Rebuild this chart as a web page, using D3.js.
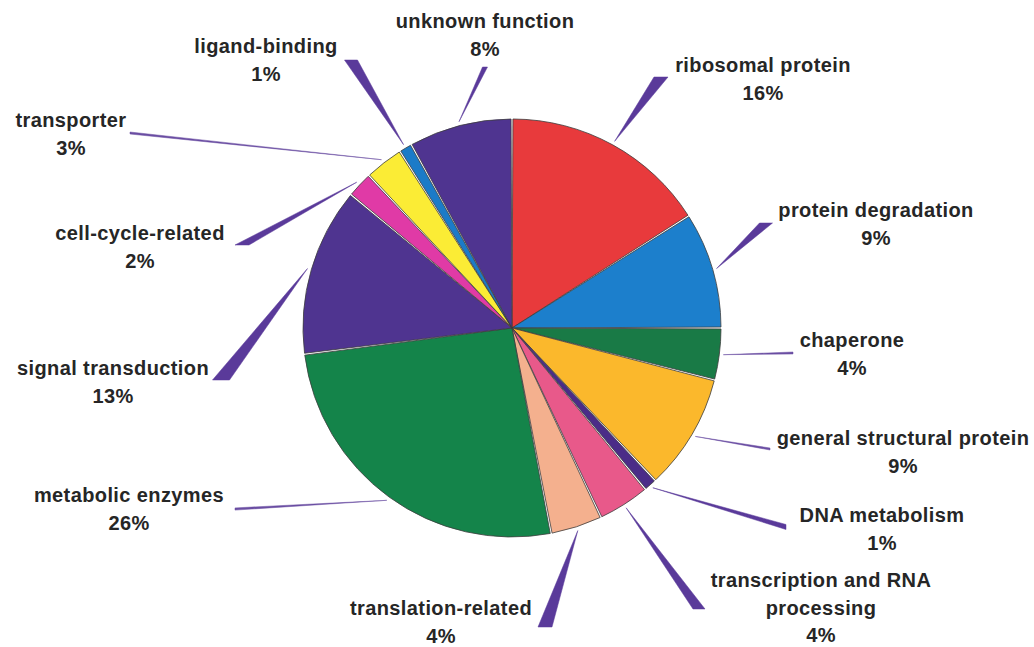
<!DOCTYPE html>
<html>
<head>
<meta charset="utf-8">
<script src="https://cdn.jsdelivr.net/npm/d3@7"></script>
<style>
  html, body { margin: 0; padding: 0; background: #ffffff; }
  svg { display: block; }
  .lbl { font-family: "Liberation Sans", Arial, Helvetica, sans-serif; font-weight: bold;
         font-size: 20px; letter-spacing: 0.4px; fill: #262626; }
</style>
</head>
<body>
<svg id="chart" width="1034" height="647"></svg>
<script>
// Functional categories, clockwise from 12 o'clock
const categories = [
  "ribosomal protein", "protein degradation", "chaperone", "general structural protein",
  "DNA metabolism", "transcription and RNA processing", "translation-related",
  "metabolic enzymes", "signal transduction", "cell-cycle-related", "transporter",
  "ligand-binding", "unknown function"
];
// Share of proteins in each category (%)
const shares = [16, 9, 4, 9, 1, 4, 4, 26, 13, 2, 3, 1, 8];
// How each category name is broken into lines
const nameLines = [
  ["ribosomal protein"], ["protein degradation"], ["chaperone"], ["general structural protein"],
  ["DNA metabolism"], ["transcription and RNA", "processing"], ["translation-related"],
  ["metabolic enzymes"], ["signal transduction"], ["cell-cycle-related"], ["transporter"],
  ["ligand-binding"], ["unknown function"]
];
const sliceColors = [
  "#e83a3c", "#1c7fcc", "#197a46", "#fbb82c", "#4b2c88", "#e8598a", "#f4b08e",
  "#14844a", "#4f3490", "#e03aa6", "#fbec35", "#1b7bc8", "#4f3490"
];

// Layout: label anchor (centre x, first baseline) and leader tail (x, y, width, base orientation)
const labelPos = [
  [763, 72], [876, 217], [852, 347], [903, 445], [882, 522], [821, 587], [441, 615],
  [129, 502], [113, 375], [140, 240], [71, 127], [266, 53], [485, 28]
];
const leaderTail = [
  [661, 77, 14, "h"], [766, 223, 13, "h"], [793, 353, 2, "v"], [770, 449, 2, "v"],
  [786, 527, 5, "v"], [699, 609, 12, "h"], [545, 627, 14, "h"], [235, 509, 2.2, "v"],
  [221, 380, 17, "h"], [242, 245, 14, "h"], [130, 133, 2, "v"], [351, 60, 13, "h"],
  [485, 67, 5, "h"]
];

const cx = 512, cy = 328, R = 209;
const svg = d3.select("#chart");

const pie = d3.pie().sort(null).value(d => d)
  .startAngle(0).endAngle(2 * Math.PI);
const arcs = pie(shares);

const arc = d3.arc().innerRadius(0).outerRadius(R)
  .padAngle(0.009).padRadius(R);

// Leader wedges: tapered from the rim of each slice out to its label
const leaderGroup = svg.append("g");
arcs.forEach((a, i) => {
  const mid = (a.startAngle + a.endAngle) / 2;
  const ax = cx + Math.sin(mid) * (R + 4);
  const ay = cy - Math.cos(mid) * (R + 4);
  const [tx, ty, w, o] = leaderTail[i];
  const b1 = o === "h" ? [tx - w / 2, ty] : [tx, ty - w / 2];
  const b2 = o === "h" ? [tx + w / 2, ty] : [tx, ty + w / 2];
  leaderGroup.append("path")
    .attr("d", d3.line()([[ax, ay], b1, b2]) + "Z")
    .attr("fill", w > 3 ? "#5a3a9a" : "#6b4ea3")
    .attr("stroke", w > 3 ? "#5a3a9a" : "#6b4ea3")
    .attr("stroke-width", 0.5)
    .attr("stroke-linejoin", "round");
});

// Slices
const pieGroup = svg.append("g").attr("transform", `translate(${cx},${cy})`);
pieGroup.selectAll("path.slice")
  .data(arcs)
  .join("path")
  .attr("class", "slice")
  .attr("d", arc)
  .attr("fill", (d, i) => sliceColors[i])
  .attr("stroke", "#3c3c3c")
  .attr("stroke-width", 0.8)
  .attr("stroke-linejoin", "round");

// Labels: category name then percentage
const labelGroup = svg.append("g");
arcs.forEach((a, i) => {
  const [lx, ly] = labelPos[i];
  const lines = nameLines[i].concat([`${shares[i]}%`]);
  const t = labelGroup.append("text")
    .attr("class", "lbl")
    .attr("text-anchor", "middle")
    .attr("x", lx).attr("y", ly);
  lines.forEach((s, k) => {
    t.append("tspan").attr("x", lx).attr("dy", k === 0 ? 0 : 27.5).text(s);
  });
});
</script>
</body>
</html>
